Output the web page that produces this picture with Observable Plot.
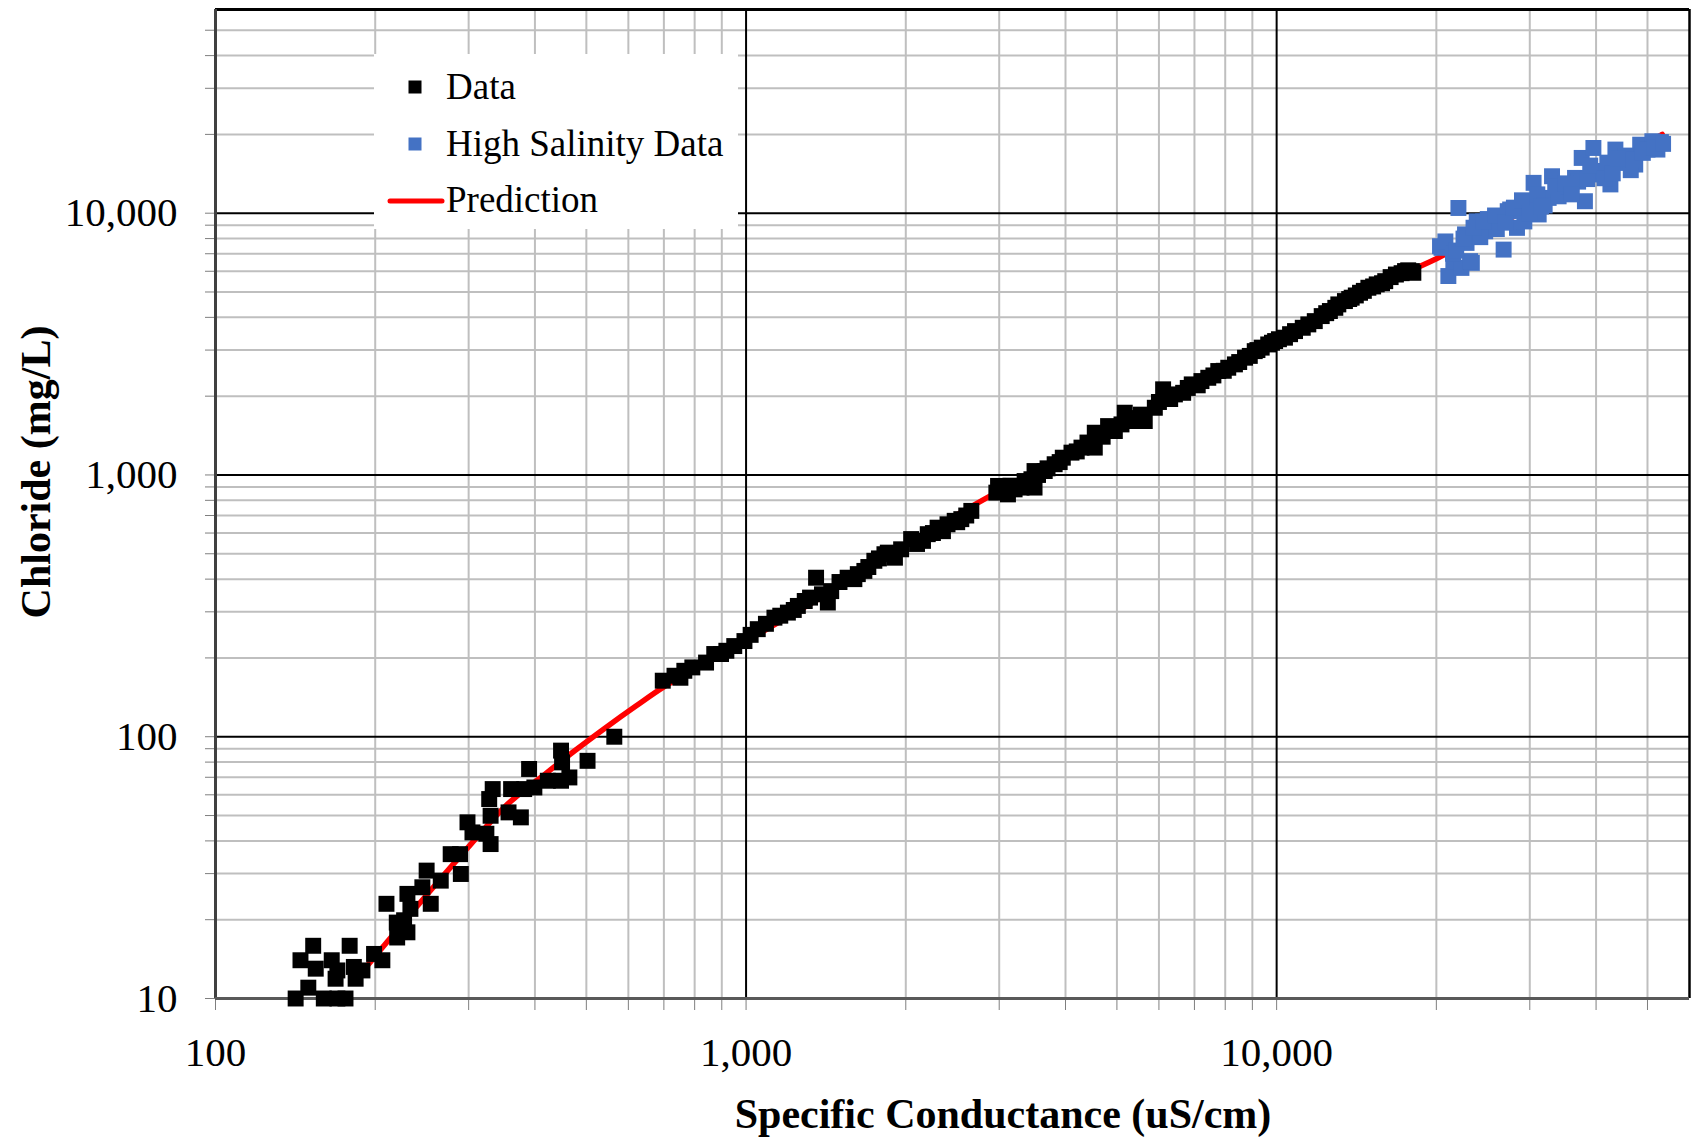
<!DOCTYPE html>
<html>
<head>
<meta charset="utf-8">
<script src="https://cdn.jsdelivr.net/npm/d3@7"></script>
<script src="https://cdn.jsdelivr.net/npm/@observablehq/plot@0.6"></script>
<style>
  html, body { margin: 0; padding: 0; background: white; }
  #chart svg { display: block; }
</style>
</head>
<body>
<div id="chart"></div>
<script>
// ---- Data ----
const dataX = [
  141.6,149.6,160,169.7,175.8,152.8,144.6,154.5,165.6,169.7,168.4,179,182.3,183.7,189.2,199,206.3,
  210,220,219.6,230,226.7,233,230,245.4,250,254.5,265.8,277.5,289,290,298.5,305,324,330,328,333,330,
  356.7,376.3,360.7,381.8,399,390,423,448,450,448,464.5,502.6,564.5,
  696.6,733,752,765,792,840.6,871,897,918,950,993,1052,1131,1199,1252,1290,1355,1426,1447,1554,1624,
  1671,1745,1823,1908,1960,2047,2155,2200,2296,2397,2473,2545,2600,2658,
  2963,2985,3094,3116,3207,3304,3350,3450,3497,3497,3655,3816,3953,4105,4287,4542,4542,4812,4955,
  5173,5402,5642,5894,6110,6430,6665,6918,7216,7433,7762,8106,8344,8718,9093,9372,9641,9934,10368,
  10830,11474,11800,12160,12600,13070,13450,13850,14360,14890,15440,16020,16780,17460,17980,18100,
  1020,1090,1160,1230,1320,1390,1500,1600,1700,1780,1850,2100,2250,2350,2500,
  3000,3150,3400,3550,3700,3900,4200,4400,4700,5100,5300,5550,6000,6300,6800,7100,7600,7950,
  8500,8900,9200,9800,10100,10600,11200,12400,12900,13700,14100,14600,15200,15800,16400,17200,17700
];
const dataY = [
  10,11.0,10,10,10,15.9,14.0,13.0,14.0,12.8,11.9,15.9,13.2,11.9,12.8,14.8,14.0,
  23.0,17.1,19.5,17.9,19.9,22.0,25.1,26.6,30.8,23.0,28.2,35.6,35.6,29.9,47.1,43.1,42.6,38.9,57.8,63.1,49.9,
  51.4,49.2,63.1,63.1,64.0,75.3,67.9,88.5,79.8,67.9,69.9,80.9,100,
  163.7,171,168,178.6,184,192,207,207,213,222,232,257.6,285,298,316,330,405,325.6,360,405,418,
  430,470,498,483,520,569,560,594,629,648,668,678,700,729,
  856,908,881,843,881,895,948,963,1035,895,1035,1099,1164,1217,1272,1450,1272,1537,1472,
  1729,1607,1607,1806,2124,2031,2060,2218,2284,2351,2495,2568,2645,2805,2972,3065,3152,3247,3345,
  3545,3760,3870,4045,4230,4483,4616,4756,4966,5190,5346,5500,5830,6010,6010,5920,
  245,270,290,305,340,350,390,400,445,480,505,545,600,610,660,
  870,910,930,1000,1060,1120,1230,1330,1400,1560,1650,1700,1900,1950,2150,2200,2400,2500,
  2700,2850,3000,3200,3300,3450,3650,4150,4350,4700,4850,5050,5250,5400,5700,5900,6050
];

const highX = [
  20320,21070,22010,21530,22300,23330,22650,23830,24720,25450,26780,26970,27550,28380,29850,30500,
  31180,33040,32560,34500,36510,38110,37580,39540,39840,42570,43500,44760,47410,48440,51070,52200,
  20450,23150,23990,27260,20800,21500,22800,24200,25000,26000,28800,29300,31000,32000,34000,35500,
  37000,41000,42000,45500,46500,50000,53000,
  21800,22500,23500,24500,25800,27000,28000,29000,30000,31500,33500,35000,36000,38500,39000,41500,
  43000,44000,47000,49000,51500,53500
];
const highY = [
  7480,5754,10470,6560,6180,6460,8300,9310,8530,9050,7260,9590,10330,8790,11110,13060,
  9890,13840,11440,12130,13640,11110,16260,17750,14060,12880,17500,15560,15340,18270,18830,17500,
  7374,6560,9180,10180,7800,7000,7700,8100,9500,8700,10200,9300,11800,10700,11600,12600,
  13200,14500,15600,16600,14600,17500,18700,
  7200,8000,8800,9300,9800,9200,10500,11200,10000,10600,12700,13000,11800,13500,15200,13600,
  14200,16200,16000,17000,17800,18400
];

const predX = [185,200,254,303,350,422,474,546,620,700,800,1000,1500,2000,3000,5000,7000,10000,15000,20000,30000,40000,53300];
const predY = [12,14.5,25.8,38.9,53.7,73.1,88,109,131,155,180,232,375,540,870,1500,2200,3230,5150,6700,10500,14300,20000];

// tick / grid values
const majorX = [100, 1000, 10000];
const minorX = [200,300,400,500,600,700,800,900,2000,3000,4000,5000,6000,7000,8000,9000,20000,30000,40000,50000];
const majorY = [10, 100, 1000, 10000];
const minorY = [20,30,40,50,60,70,80,90,200,300,400,500,600,700,800,900,2000,3000,4000,5000,6000,7000,8000,9000,20000,30000,40000,50000];

const xTitle = "Specific Conductance (uS/cm)";
const yTitle = "Chloride (mg/L)";
const legendItems = ["Data", "High Salinity Data", "Prediction"];

// ---- Build tables ----
const dataPts = dataX.map((x, i) => ({x, y: dataY[i]}));
const highPts = highX.map((x, i) => ({x, y: highY[i]}));
const predPts = predX.map((x, i) => ({x, y: predY[i]}));
const fmt = d3.format(",");
const ff = "'Liberation Serif', 'Times New Roman', serif";

const svg = Plot.plot({
  width: 1696,
  height: 1140,
  marginLeft: 215,
  marginRight: 7,
  marginTop: 9,
  marginBottom: 142,
  x: {type: "log", domain: [100, 60000]},
  y: {type: "log", domain: [10, 60000]},
  style: {fontFamily: ff, fontSize: "41px", background: "white", color: "black"},
  marks: [
    Plot.ruleX(minorX, {stroke: "#BFBFBF", strokeWidth: 2}),
    Plot.ruleY(minorY, {stroke: "#BFBFBF", strokeWidth: 2}),
    Plot.ruleX(majorX, {stroke: "black", strokeWidth: 2}),
    Plot.ruleY(majorY, {stroke: "black", strokeWidth: 2}),
    Plot.axisY({ticks: [...minorY, ...majorY], tickSize: 10, tickPadding: 28, stroke: "#7F7F7F", fill: "black",
      tickFormat: d => majorY.includes(d) ? fmt(d) : "", label: null, fontSize: 41}),
    Plot.axisX({ticks: [...minorX, ...majorX], tickSize: 12, tickPadding: 26, stroke: "#7F7F7F", fill: "black",
      tickFormat: d => majorX.includes(d) ? fmt(d) : "", label: null, fontSize: 41}),
    Plot.ruleY([60000], {stroke: "black", strokeWidth: 3}),
    Plot.ruleX([60000], {stroke: "black", strokeWidth: 2.5}),
    Plot.ruleX([100], {stroke: "#404040", strokeWidth: 3}),
    Plot.ruleY([10], {stroke: "#595959", strokeWidth: 3}),
    Plot.line(predPts, {x: "x", y: "y", stroke: "#FF0000", strokeWidth: 5.5, curve: "monotone-x"}),
    Plot.dot(dataPts, {x: "x", y: "y", symbol: "square", r: 9, fill: "black"}),
    Plot.dot(highPts, {x: "x", y: "y", symbol: "square", r: 9, fill: "#4472C4"})
  ]
});

const s = d3.select(svg);

// Axis titles
s.append("text")
  .attr("x", 1003).attr("y", 1128)
  .attr("text-anchor", "middle")
  .attr("font-family", ff).attr("font-size", 42).attr("font-weight", "bold")
  .attr("fill", "black")
  .text(xTitle);
s.append("text")
  .attr("transform", "translate(35,472) rotate(-90)")
  .attr("text-anchor", "middle").attr("dy", "0.35em")
  .attr("font-family", ff).attr("font-size", 42).attr("font-weight", "bold")
  .attr("fill", "black")
  .text(yTitle);

// Legend
const lg = s.append("g").attr("font-family", ff).attr("font-size", 37).attr("fill", "black").attr("text-anchor", "start");
lg.append("rect").attr("x", 374).attr("y", 54).attr("width", 364).attr("height", 175).attr("fill", "white");
lg.append("rect").attr("x", 408.5).attr("y", 80.5).attr("width", 13).attr("height", 13).attr("fill", "black");
lg.append("text").attr("x", 446).attr("y", 99).attr("text-anchor", "start").text(legendItems[0]);
lg.append("rect").attr("x", 408.5).attr("y", 137.5).attr("width", 13).attr("height", 13).attr("fill", "#4472C4");
lg.append("text").attr("x", 446).attr("y", 156).attr("text-anchor", "start").text(legendItems[1]);
lg.append("line").attr("x1", 390).attr("x2", 442).attr("y1", 201).attr("y2", 201)
  .attr("stroke", "#FF0000").attr("stroke-width", 5).attr("stroke-linecap", "round");
lg.append("text").attr("x", 446).attr("y", 212).attr("text-anchor", "start").text(legendItems[2]);

document.getElementById("chart").appendChild(svg);
</script>
</body>
</html>
